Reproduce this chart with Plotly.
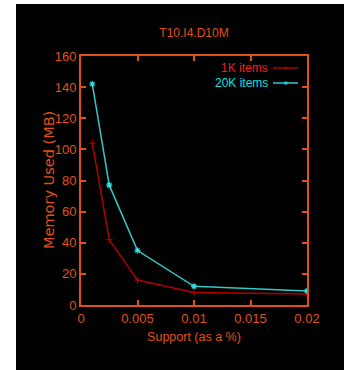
import plotly.graph_objects as go

support = [0.001, 0.0025, 0.005, 0.01, 0.02]
mem_1k = [104, 42, 16, 8, 7]
mem_20k = [142, 77, 35, 12, 9]
series_names = ["1K items", "20K items"]
x_ticks = [0, 0.005, 0.01, 0.015, 0.02]
x_tick_labels = ["0", "0.005", "0.01", "0.015", "0.02"]
y_ticks = [0, 20, 40, 60, 80, 100, 120, 140, 160]

W, H = 344, 370
L, R, T, B = 81, 37, 56, 65
pw, ph = W - L - R, H - T - B

ORANGE = "#e0501a"
FONT = "Liberation Sans, Arial, sans-serif"

fig = go.Figure()
fig.add_trace(go.Scatter(x=support, y=mem_1k, mode="lines+markers", name=series_names[0],
                         line=dict(color="#b00000", width=1.5),
                         marker=dict(symbol="cross-thin", size=5, line=dict(color="#b00000", width=1))))
fig.add_trace(go.Scatter(x=support, y=mem_20k, mode="lines+markers", name=series_names[1],
                         line=dict(color="#33c8c8", width=1.5),
                         marker=dict(symbol="asterisk", size=5, line=dict(color="#33e0e0", width=1.2))))

def px2paper_x(px):
    return (px - L) / pw

def px2paper_y(py):
    return (H - B - py) / ph

shapes = [
    dict(type="rect", xref="paper", yref="paper", x0=px2paper_x(0), x1=px2paper_x(16),
         y0=px2paper_y(H), y1=px2paper_y(0), fillcolor="white", line=dict(width=0), layer="below"),
    dict(type="rect", xref="paper", yref="paper", x0=px2paper_x(0), x1=px2paper_x(W),
         y0=px2paper_y(4), y1=px2paper_y(0), fillcolor="white", line=dict(width=0), layer="below"),
    dict(type="line", xref="paper", yref="paper", x0=px2paper_x(273), x1=px2paper_x(298),
         y0=px2paper_y(68), y1=px2paper_y(68), line=dict(color="#b00000", width=1.5)),
    dict(type="line", xref="paper", yref="paper", x0=px2paper_x(273), x1=px2paper_x(298),
         y0=px2paper_y(83), y1=px2paper_y(83), line=dict(color="#33c8c8", width=1.5)),
]

annotations = [
    dict(text=series_names[0], xref="paper", yref="paper", x=px2paper_x(270), y=px2paper_y(68),
         xanchor="right", yanchor="middle", showarrow=False, font=dict(family=FONT, size=12, color="#ff1a1a")),
    dict(text=series_names[1], xref="paper", yref="paper", x=px2paper_x(270), y=px2paper_y(83),
         xanchor="right", yanchor="middle", showarrow=False, font=dict(family=FONT, size=12, color="#10e0e0")),
    dict(text="+", xref="paper", yref="paper", x=px2paper_x(285.5), y=px2paper_y(68),
         xanchor="center", yanchor="middle", showarrow=False, font=dict(family=FONT, size=9, color="#b00000")),
    dict(text="*", xref="paper", yref="paper", x=px2paper_x(285.5), y=px2paper_y(85),
         xanchor="center", yanchor="middle", showarrow=False, font=dict(family=FONT, size=10, color="#33e0e0")),
    dict(text="Memory Used (MB)", xref="paper", yref="paper", x=px2paper_x(49), y=px2paper_y(180),
         xanchor="center", yanchor="middle", textangle=-90, showarrow=False,
         font=dict(family="DejaVu Sans, sans-serif", size=14.5, color=ORANGE)),
]

axis_common = dict(showgrid=False, zeroline=False, showline=True, linecolor=ORANGE, linewidth=2,
                   mirror="allticks", ticks="inside", ticklen=5, tickcolor=ORANGE, tickwidth=1.5,
                   tickfont=dict(family=FONT, size=13, color=ORANGE))

fig.update_layout(
    width=W, height=H,
    margin=dict(l=L, r=R, t=T, b=B),
    paper_bgcolor="black", plot_bgcolor="black",
    showlegend=False,
    title=dict(text="T10.I4.D10M", x=(L + pw / 2) / W, y=1 - 33 / H, xanchor="center", yanchor="middle",
               font=dict(family=FONT, size=12, color=ORANGE)),
    xaxis=dict(range=[0, 0.02], tickvals=x_ticks, ticktext=x_tick_labels,
               title=dict(text="Support (as a %)", font=dict(family=FONT, size=12.5, color=ORANGE), standoff=8),
               **axis_common),
    yaxis=dict(range=[0, 160], tickvals=y_ticks, **axis_common),
    shapes=shapes, annotations=annotations,
)

fig.write_html("out.html", config={"displayModeBar": False},
               post_script="document.body.style.margin='0';document.body.style.overflow='hidden';")
